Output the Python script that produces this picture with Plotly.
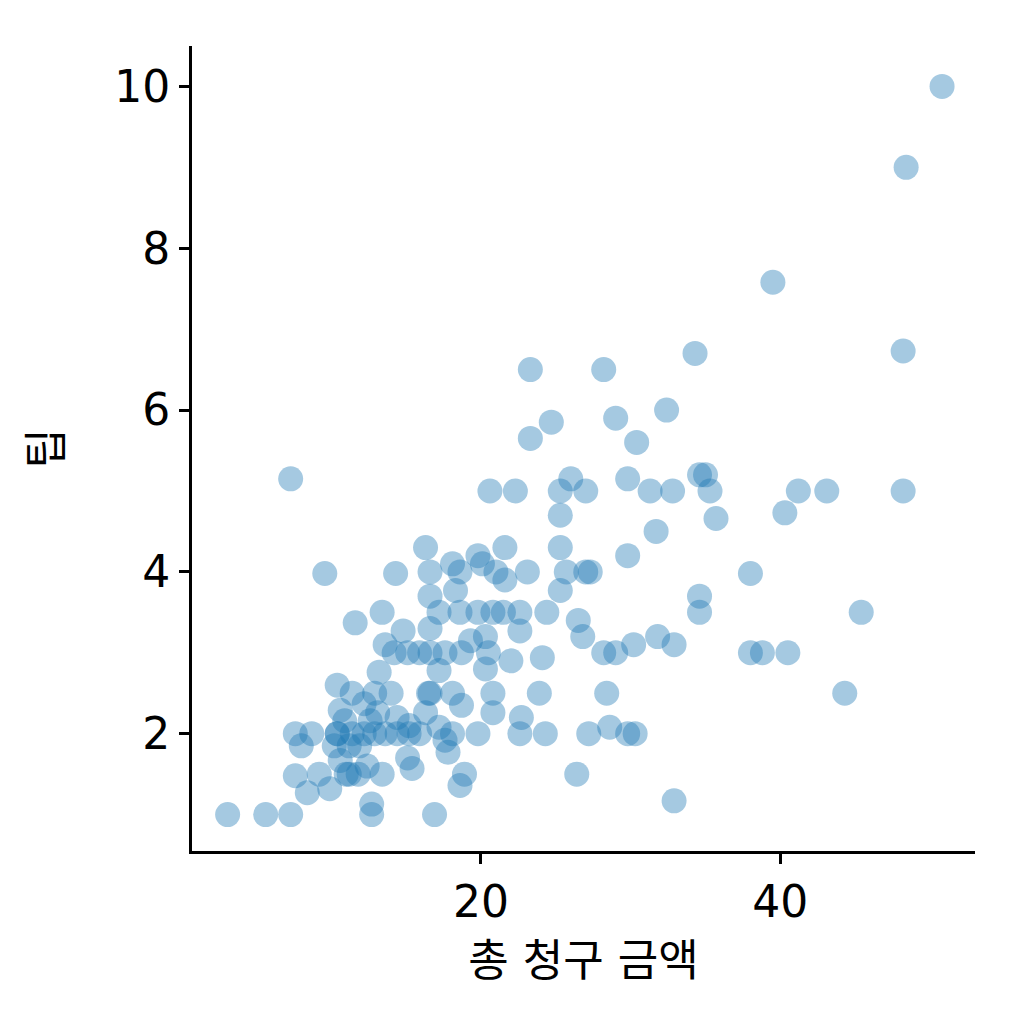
import plotly.graph_objects as go

# 총 청구 금액 (x) / 팁 (y)
total_bill = [3.08, 5.62, 7.29, 7.29, 9.57, 11.6, 13.4, 14.3, 16.3, 18.1, 19.8, 21.6, 20.6, 22.3,
              23.3, 23.3, 24.7, 25.3, 26.0, 27.0, 25.3, 25.3, 28.2, 29.0, 30.4, 29.8, 29.8, 31.3,
              32.8, 31.7, 32.4, 34.3, 34.6, 35.0, 35.3, 35.7, 39.5, 40.3, 41.2, 43.1, 48.2, 48.2,
              48.4, 50.8, 38.0, 38.0, 38.8, 40.5, 45.4, 44.3, 34.6, 34.6, 32.9, 31.8, 30.2, 28.2,
              29.0, 26.8, 26.5, 27.3, 27.0, 28.4, 28.6, 29.8, 30.3, 27.2, 26.4, 32.9, 24.3, 22.6,
              22.7, 23.9, 24.1, 24.4, 25.3, 25.7, 23.1, 22.6, 22.6, 22.0, 20.8, 20.8, 19.8, 18.9,
              18.6, 16.9, 17.8, 18.1, 18.7, 18.1, 17.2, 17.6, 18.7, 19.3, 20.3, 20.5, 20.3, 20.8,
              21.5, 19.8, 18.6, 17.2, 16.6, 16.6, 18.3, 18.6, 16.6, 21.0, 21.6, 20.1, 15.9, 15.1,
              14.2, 13.6, 14.8, 16.5, 16.3, 15.9, 15.2, 14.4, 13.6, 12.9, 12.2, 11.4, 10.4, 10.2,
              8.7, 7.6, 8.0, 7.6, 8.4, 9.2, 9.9, 11.0, 11.8, 12.4, 13.4, 12.7, 12.7, 10.6, 10.6,
              10.4, 11.4, 12.2, 12.9, 13.2, 14.0, 14.4, 15.2, 15.4, 15.1, 13.1, 12.6, 11.9, 11.2,
              10.9, 17.2, 17.6, 16.6, 16.6, 10.4, 11.2]
tip = [1.0, 1.0, 1.0, 5.15, 3.98, 3.37, 3.5, 3.98, 4.3, 4.1, 4.2, 4.3, 5.0, 5.0,
       6.5, 5.65, 5.85, 5.0, 5.15, 5.0, 4.7, 4.3, 6.5, 5.9, 5.6, 5.15, 4.2, 5.0,
       5.0, 4.5, 6.0, 6.7, 5.2, 5.2, 5.0, 4.66, 7.58, 4.73, 5.0, 5.0, 5.0, 6.73,
       9.0, 10.0, 3.98, 3.0, 3.0, 3.0, 3.5, 2.5, 3.7, 3.5, 3.1, 3.2, 3.1, 3.0,
       3.0, 3.2, 3.4, 4.0, 4.0, 2.5, 2.08, 2.0, 2.0, 2.0, 1.5, 1.17, 2.0, 2.0,
       2.2, 2.5, 2.94, 3.5, 3.77, 4.0, 4.0, 3.5, 3.27, 2.9, 2.5, 2.26, 2.0, 1.5,
       1.36, 1.0, 1.77, 2.0, 2.35, 2.5, 2.78, 3.0, 3.0, 3.15, 3.2, 3.0, 2.8, 3.5,
       3.5, 3.5, 3.5, 3.5, 3.3, 3.7, 3.77, 4.0, 4.0, 4.0, 3.9, 4.1, 3.0, 3.0,
       3.0, 3.1, 3.27, 2.5, 2.26, 2.0, 2.0, 2.0, 2.0, 2.0, 2.0, 2.0, 2.0, 1.85,
       2.0, 2.0, 1.85, 1.48, 1.27, 1.5, 1.32, 1.5, 1.5, 1.6, 1.5, 1.13, 1.0, 1.67, 2.29,
       2.6, 2.5, 2.37, 2.5, 2.76, 2.5, 2.2, 2.1, 1.57, 1.7, 2.26, 2.16, 1.85, 1.85,
       2.16, 2.08, 1.92, 3.0, 2.5, 2.0, 1.5]

fig = go.Figure(go.Scatter(
    x=total_bill, y=tip, mode="markers",
    marker=dict(size=25, color="#1f77b4", opacity=0.4, line=dict(width=0)),
))

axis_style = dict(
    showgrid=False, zeroline=False, showline=True, linecolor="black", linewidth=3,
    ticks="outside", ticklen=10, tickwidth=3, tickcolor="black",
    tickfont=dict(size=44, color="black"),
)

fig.update_layout(
    width=1024, height=1024,
    plot_bgcolor="white", paper_bgcolor="white",
    font=dict(family="DejaVu Sans, Noto Sans CJK KR", color="black"),
    margin=dict(l=184, r=57, t=38, b=181),
    showlegend=False,
    xaxis=dict(axis_style, range=[0.7, 53], tickvals=[20, 40],
               title=dict(text="총 청구 금액", font=dict(size=44), standoff=20)),
    yaxis=dict(axis_style, range=[0.55, 10.5], tickvals=[2, 4, 6, 8, 10],
               title=dict(text="팁", font=dict(size=44), standoff=38)),
)

fig.write_html("out.html")
